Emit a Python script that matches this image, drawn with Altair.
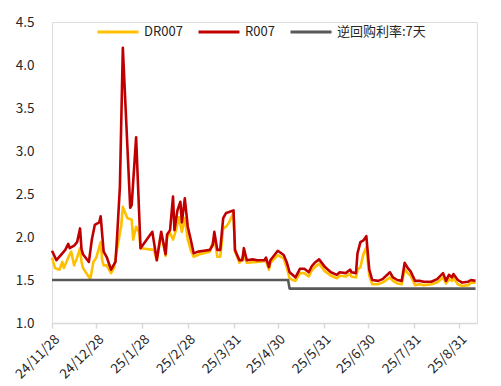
import altair as alt
import pandas as pd

FONT = "Noto Sans CJK SC"

r007_dates = [
    "2024-11-28", "2024-12-01", "2024-12-05", "2024-12-07", "2024-12-09", "2024-12-10",
    "2024-12-13", "2024-12-15", "2024-12-17", "2024-12-18", "2024-12-19", "2024-12-23",
    "2024-12-25", "2024-12-27", "2024-12-30", "2024-12-31", "2025-01-02", "2025-01-04",
    "2025-01-07", "2025-01-10", "2025-01-11", "2025-01-13", "2025-01-15", "2025-01-20",
    "2025-01-21", "2025-01-24", "2025-01-27", "2025-02-04", "2025-02-07", "2025-02-10",
    "2025-02-13", "2025-02-14", "2025-02-16", "2025-02-18", "2025-02-19", "2025-02-21",
    "2025-02-23", "2025-02-24", "2025-02-26", "2025-02-28", "2025-03-02", "2025-03-04",
    "2025-03-07", "2025-03-11", "2025-03-15", "2025-03-17", "2025-03-18", "2025-03-20",
    "2025-03-22", "2025-03-24", "2025-03-26", "2025-03-28", "2025-03-31", "2025-04-01",
    "2025-04-04", "2025-04-06", "2025-04-07", "2025-04-09", "2025-04-13", "2025-04-16",
    "2025-04-21", "2025-04-22", "2025-04-24", "2025-04-25", "2025-04-30", "2025-05-04",
    "2025-05-06", "2025-05-08", "2025-05-10", "2025-05-12", "2025-05-15", "2025-05-18",
    "2025-05-21", "2025-05-23", "2025-05-25", "2025-05-28", "2025-06-01", "2025-06-05",
    "2025-06-09", "2025-06-11", "2025-06-15", "2025-06-18", "2025-06-19", "2025-06-22",
    "2025-06-23", "2025-06-25", "2025-06-27", "2025-06-29", "2025-07-01", "2025-07-03",
    "2025-07-07", "2025-07-10", "2025-07-15", "2025-07-17", "2025-07-20", "2025-07-23",
    "2025-07-25", "2025-07-27", "2025-07-29", "2025-08-01", "2025-08-04", "2025-08-07",
    "2025-08-12", "2025-08-16", "2025-08-20", "2025-08-22", "2025-08-24", "2025-08-26",
    "2025-08-27", "2025-08-30", "2025-09-02", "2025-09-06", "2025-09-08", "2025-09-11",
]
r007_values = [
    1.84, 1.73, 1.81, 1.85, 1.92, 1.87,
    1.90, 1.94, 2.10, 1.86, 1.80, 1.71,
    1.97, 2.14, 2.17, 2.24, 1.83, 1.77,
    1.62, 1.71, 1.97, 2.58, 4.20, 2.34,
    2.37, 3.16, 1.87, 2.06, 1.73, 2.06,
    1.80, 2.03, 2.08, 2.47, 2.08, 2.31,
    2.41, 2.17, 2.45, 2.12, 1.97, 1.81,
    1.83, 1.84, 1.85, 1.91, 2.06, 1.85,
    1.85, 2.22, 2.28, 2.29, 2.31, 1.85,
    1.73, 1.73, 1.87, 1.73, 1.74, 1.73,
    1.73, 1.76, 1.65, 1.73, 1.84, 1.79,
    1.71, 1.59, 1.56, 1.53, 1.63, 1.63,
    1.59, 1.66, 1.70, 1.74, 1.65, 1.59,
    1.56, 1.59, 1.58, 1.62, 1.59, 1.58,
    1.81, 1.94, 1.96, 2.01, 1.62, 1.50,
    1.49, 1.51, 1.59, 1.53, 1.50, 1.49,
    1.70, 1.64, 1.60, 1.49, 1.49, 1.48,
    1.48, 1.51, 1.58, 1.49, 1.56, 1.53,
    1.57, 1.50, 1.47, 1.48, 1.50, 1.49,
]

dr007_dates = [
    "2024-11-28", "2024-11-30", "2024-12-03", "2024-12-05", "2024-12-06", "2024-12-09",
    "2024-12-11", "2024-12-13", "2024-12-15", "2024-12-17", "2024-12-18", "2024-12-19",
    "2024-12-22", "2024-12-24", "2024-12-26", "2024-12-28", "2024-12-31", "2025-01-01",
    "2025-01-02", "2025-01-04", "2025-01-07", "2025-01-09", "2025-01-11", "2025-01-14",
    "2025-01-15", "2025-01-18", "2025-01-21", "2025-01-22", "2025-01-24", "2025-01-26",
    "2025-01-27", "2025-02-05", "2025-02-07", "2025-02-10", "2025-02-13", "2025-02-14",
    "2025-02-16", "2025-02-18", "2025-02-20", "2025-02-22", "2025-02-24", "2025-02-26",
    "2025-02-28", "2025-03-02", "2025-03-04", "2025-03-08", "2025-03-15", "2025-03-18",
    "2025-03-20", "2025-03-22", "2025-03-24", "2025-03-26", "2025-03-28", "2025-03-31",
    "2025-04-01", "2025-04-04", "2025-04-07", "2025-04-09", "2025-04-16", "2025-04-22",
    "2025-04-24", "2025-04-25", "2025-04-30", "2025-05-04", "2025-05-06", "2025-05-08",
    "2025-05-10", "2025-05-12", "2025-05-15", "2025-05-18", "2025-05-21", "2025-05-23",
    "2025-05-25", "2025-05-28", "2025-06-01", "2025-06-05", "2025-06-09", "2025-06-11",
    "2025-06-15", "2025-06-18", "2025-06-19", "2025-06-22", "2025-06-23", "2025-06-25",
    "2025-06-27", "2025-06-29", "2025-07-01", "2025-07-03", "2025-07-07", "2025-07-10",
    "2025-07-15", "2025-07-17", "2025-07-20", "2025-07-23", "2025-07-25", "2025-07-27",
    "2025-07-29", "2025-08-01", "2025-08-04", "2025-08-07", "2025-08-12", "2025-08-16",
    "2025-08-20", "2025-08-22", "2025-08-24", "2025-08-26", "2025-08-27", "2025-08-30",
    "2025-09-02", "2025-09-06", "2025-09-08", "2025-09-11",
]
dr007_values = [
    1.76, 1.64, 1.62, 1.71, 1.64, 1.76,
    1.83, 1.67, 1.76, 1.87, 1.71, 1.64,
    1.56, 1.51, 1.71, 1.76, 1.94, 1.73,
    1.67, 1.67, 1.58, 1.64, 1.85, 2.14,
    2.35, 2.22, 2.20, 1.97, 2.12, 2.05,
    1.87, 1.85, 1.73, 2.04, 1.78, 2.00,
    2.05, 1.97, 2.08, 2.23, 2.06, 2.22,
    1.97, 1.85, 1.77, 1.80, 1.83, 2.00,
    1.77, 1.77, 2.10, 2.12, 2.17, 2.28,
    1.83, 1.70, 1.79, 1.70, 1.71, 1.72,
    1.62, 1.70, 1.79, 1.75, 1.65, 1.52,
    1.50, 1.49, 1.58, 1.58, 1.54, 1.61,
    1.65, 1.69, 1.60, 1.55, 1.52, 1.55,
    1.54, 1.57, 1.54, 1.53, 1.62, 1.65,
    1.80, 1.88, 1.55, 1.45, 1.45, 1.47,
    1.53, 1.49, 1.46, 1.45, 1.63, 1.58,
    1.55, 1.44, 1.45, 1.44, 1.45, 1.47,
    1.53, 1.46, 1.51, 1.49, 1.52, 1.45,
    1.43, 1.44, 1.47, 1.47,
]

repo_dates = ["2024-11-28", "2025-05-07", "2025-05-08", "2025-09-11"]
repo_values = [1.5, 1.5, 1.4, 1.4]

series_names = ["DR007", "R007", "逆回购利率:7天"]
series_colors = ["#FFC000", "#C00000", "#595959"]

tick_dates = ["2024-11-28", "2024-12-28", "2025-01-28", "2025-02-28", "2025-03-31",
              "2025-04-30", "2025-05-31", "2025-06-30", "2025-07-31", "2025-08-31"]
y_ticks = [1.0, 1.5, 2.0, 2.5, 3.0, 3.5, 4.0, 4.5]

df = pd.concat([
    pd.DataFrame({"date": dr007_dates, "value": dr007_values, "series": series_names[0], "ord": 0}),
    pd.DataFrame({"date": r007_dates, "value": r007_values, "series": series_names[1], "ord": 1}),
    pd.DataFrame({"date": repo_dates, "value": repo_values, "series": series_names[2], "ord": 2}),
], ignore_index=True)

tick_values = [alt.DateTime(year=int(d[:4]), month=int(d[5:7]), date=int(d[8:]), utc=True) for d in tick_dates]

chart = alt.Chart(df).mark_line(strokeWidth=2.6, strokeJoin="round").encode(
    x=alt.X("date:T", scale=alt.Scale(type="utc",
                                      domain=[alt.DateTime(year=2024, month=11, date=28, utc=True),
                                              alt.DateTime(year=2025, month=9, date=12, utc=True)]),
            axis=alt.Axis(values=tick_values, labelExpr="utcFormat(datum.value, '%y/%-m/%-d')",
                          labelAngle=-45, labelAlign="right", labelBaseline="top",
                          labelOverlap=False, labelFlush=False, labelBound=False,
                          labelPadding=4, tickSize=5, tickColor="#d9d9d9", domainColor="#d9d9d9",
                          domainWidth=1.5, tickWidth=1.5, grid=False, title=None,
                          labelFontSize=13.5, labelFont=FONT, labelColor="#262626")),
    y=alt.Y("value:Q", scale=alt.Scale(domain=[1.0, 4.5], nice=False, zero=False),
            axis=alt.Axis(values=y_ticks, format=".1f", grid=False, domain=False, ticks=False,
                          labelPadding=18, title=None, labelFontSize=13.5, labelFont=FONT,
                          labelColor="#262626")),
    color=alt.Color("series:N", scale=alt.Scale(domain=series_names, range=series_colors),
                    sort=series_names,
                    legend=alt.Legend(title=None, orient="none", direction="horizontal",
                                      legendX=44, legendY=-12, symbolType="stroke",
                                      symbolSize=1681, symbolStrokeWidth=3, labelOffset=4,
                                      columnPadding=9, labelFontSize=13, labelFont=FONT,
                                      labelColor="#262626")),
    order=alt.Order("ord:Q"),
    detail="series:N",
).properties(
    width=425, height=301,
    autosize=alt.AutoSizeParams(type="none"),
    padding={"left": 44, "top": 14, "right": 16, "bottom": 60},
).configure_view(stroke=None).configure(background="white")

chart.save("out.html", embed_options={"renderer": "svg", "actions": False})
